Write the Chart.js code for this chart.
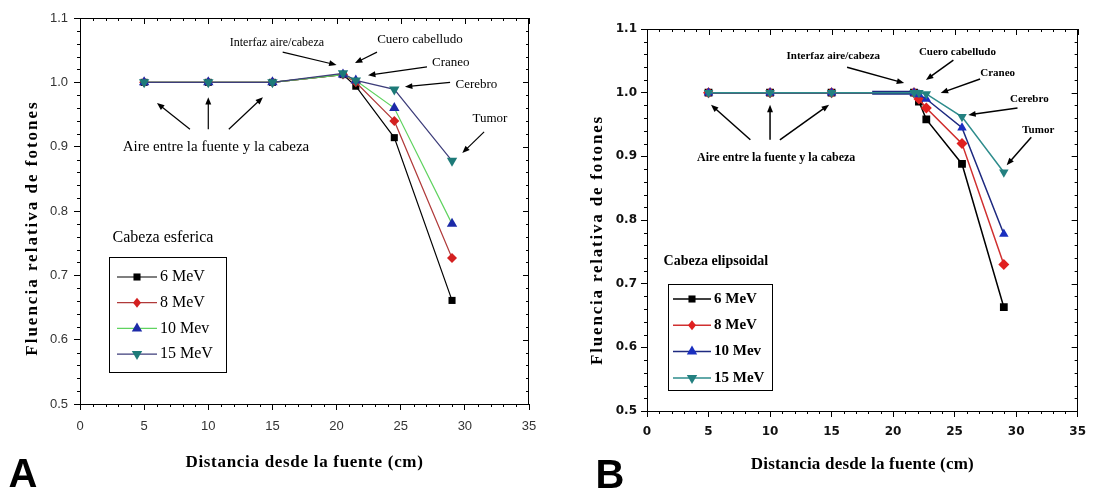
<!DOCTYPE html>
<html>
<head>
<meta charset="utf-8">
<script src="https://cdn.jsdelivr.net/npm/chart.js@4.4.1/dist/chart.umd.min.js"></script>
<style>
  html, body { margin: 0; padding: 0; background: #fff; }
  #wrap { position: relative; width: 1094px; height: 495px; }
  .panel { position: absolute; top: 0; width: 547px; height: 495px; }
</style>
</head>
<body>
<div id="wrap">
  <div class="panel" style="left:0"><canvas id="chartA" width="547" height="495"></canvas></div>
  <div class="panel" style="left:547px"><canvas id="chartB" width="547" height="495"></canvas></div>
</div>
<script>
const seriesLabels = ["6 MeV", "8 MeV", "10 Mev", "15 MeV"];

// Panel A - cabeza esferica
const distA = [5, 10, 15, 20.5, 21.5, 24.5, 29];
const a6 = [1, 1, 1, 1.012, 0.994, 0.914, 0.661];
const a8 = [1, 1, 1, 1.012, 1.0, 0.94, 0.727];
const a10 = [1, 1, 1, 1.012, 1.003, 0.96, 0.78];
const a15 = [1, 1, 1, 1.014, 1.003, 0.989, 0.878];

// Panel B - cabeza elipsoidal
const distB = [5, 10, 15, 18.3, 21.7, 22.1, 22.7, 25.6, 29];
const b6 = [1, 1, 1, 1, 1.0, 0.986, 0.958, 0.888, 0.663];
const b8 = [1, 1, 1, 1, 1.0, 0.99, 0.976, 0.92, 0.73];
const b10 = [1, 1, 1, 1, 1.0, 0.997, 0.99, 0.945, 0.778];
const b15 = [1, 1, 1, 1, 1.0, 1.0, 0.998, 0.962, 0.875];

// axis ranges
const xRange = [0, 35], xStep = 5;
const yRange = [0.5, 1.1], yStep = 0.1;

// text labels on the plots (data units)
const notesA = [
  { text: "Interfaz aire/cabeza", x: 15.35, y: 1.062, size: 12 },
  { text: "Cuero cabelludo", x: 26.5, y: 1.066, size: 13 },
  { text: "Craneo", x: 28.9, y: 1.03, size: 13 },
  { text: "Cerebro", x: 30.9, y: 0.997, size: 13 },
  { text: "Tumor", x: 31.95, y: 0.944, size: 13 },
  { text: "Aire entre la fuente y la cabeza", x: 10.6, y: 0.899, size: 15 },
  { text: "Cabeza esferica", x: 6.47, y: 0.758, size: 16 }
];
const arrowsA = [
  [15.8, 1.047, 20.0, 1.027],
  [23.15, 1.047, 21.43, 1.03],
  [27.05, 1.024, 22.45, 1.011],
  [28.85, 1.0, 25.33, 0.993],
  [31.5, 0.923, 29.8, 0.89],
  [8.57, 0.927, 6.0, 0.968],
  [10, 0.927, 10, 0.977],
  [11.6, 0.927, 14.26, 0.977]
];
const notesB = [
  { text: "Interfaz aire/cabeza", x: 15.14, y: 1.058, size: 11 },
  { text: "Cuero cabelludo", x: 25.23, y: 1.064, size: 11 },
  { text: "Craneo", x: 28.5, y: 1.031, size: 11 },
  { text: "Cerebro", x: 31.07, y: 0.99, size: 11 },
  { text: "Tumor", x: 31.8, y: 0.941, size: 11 },
  { text: "Aire entre la fuente y la cabeza", x: 10.5, y: 0.897, size: 12 },
  { text: "Cabeza elipsoidal", x: 5.6, y: 0.735, size: 14 }
];
const arrowsB = [
  [16.26, 1.04, 20.9, 1.015],
  [24.9, 1.051, 22.67, 1.02],
  [27.07, 1.0215, 23.87, 0.9995],
  [30.11, 0.976, 26.11, 0.965],
  [31.23, 0.93, 29.23, 0.886],
  [8.4, 0.926, 5.2, 0.981],
  [10, 0.926, 10, 0.981],
  [10.8, 0.926, 14.8, 0.981]
];

function marker(ctx, style, x, y, r, color, rot) {
  ctx.save();
  ctx.fillStyle = color;
  ctx.translate(x, y);
  ctx.rotate((rot || 0) * Math.PI / 180);
  ctx.beginPath();
  if (style === "rect") {
    const s = r * Math.SQRT1_2;
    ctx.rect(-s, -s, 2 * s, 2 * s);
  } else if (style === "rectRot") {
    ctx.moveTo(0, -r); ctx.lineTo(r * 0.8, 0); ctx.lineTo(0, r); ctx.lineTo(-r * 0.8, 0);
    ctx.closePath();
  } else {
    ctx.moveTo(0, -r);
    ctx.lineTo(r * Math.sin(Math.PI / 3), r * 0.5);
    ctx.lineTo(-r * Math.sin(Math.PI / 3), r * 0.5);
    ctx.closePath();
  }
  ctx.fill();
  ctx.restore();
}

function arrow(ctx, x1, y1, x2, y2, head) {
  const a = Math.atan2(y2 - y1, x2 - x1);
  ctx.beginPath();
  ctx.moveTo(x1, y1);
  ctx.lineTo(x2 - Math.cos(a) * head * 0.8, y2 - Math.sin(a) * head * 0.8);
  ctx.stroke();
  ctx.beginPath();
  ctx.moveTo(x2, y2);
  ctx.lineTo(x2 - head * Math.cos(a - 0.38), y2 - head * Math.sin(a - 0.38));
  ctx.lineTo(x2 - head * Math.cos(a + 0.38), y2 - head * Math.sin(a + 0.38));
  ctx.closePath();
  ctx.fill();
}

// frame, minor ticks, titles, notes, legend box
const decor = {
  id: "decor",
  afterDraw(chart, args, o) {
    const { ctx, chartArea: ca, scales: { x, y } } = chart;
    ctx.save();
    ctx.strokeStyle = "#000";
    ctx.fillStyle = "#000";
    ctx.lineWidth = 1;
    ctx.strokeRect(Math.round(ca.left) + 0.5, Math.round(ca.top) + 0.5, Math.round(ca.width) - 1, Math.round(ca.height));

    ctx.beginPath();
    for (let i = 0; i <= 35; i++) {
      const px = Math.round(x.getPixelForValue(i)) + 0.5;
      const major = i % 5 === 0;
      ctx.moveTo(px, ca.top); ctx.lineTo(px, ca.top + (major ? 6 : 3));
      if (!major) { ctx.moveTo(px, ca.bottom); ctx.lineTo(px, ca.bottom + 3); }
    }
    for (let i = 0; i <= 30; i++) {
      const py = Math.round(y.getPixelForValue(0.5 + i * 0.02)) + 0.5;
      const major = i % 5 === 0;
      ctx.moveTo(ca.right, py); ctx.lineTo(ca.right - (major ? 6 : 3), py);
      if (!major) { ctx.moveTo(ca.left, py); ctx.lineTo(ca.left - 3, py); }
    }
    ctx.stroke();

    // axis titles
    ctx.font = o.titleFont;
    ctx.textAlign = "center";
    ctx.textBaseline = "middle";
    ctx.letterSpacing = o.xSpacing + "px";
    ctx.fillText(o.xTitle, (ca.left + ca.right) / 2, o.xTitleY);
    ctx.save();
    ctx.translate(o.yTitleX, o.yTitleY);
    ctx.rotate(-Math.PI / 2);
    ctx.letterSpacing = o.ySpacing + "px";
    ctx.fillText(o.yTitle, 0, 0);
    ctx.restore();
    ctx.letterSpacing = "0px";

    // panel tag
    ctx.font = o.tagFont;
    ctx.fillText(o.tag, o.tagX, o.tagY);

    // notes and arrows
    o.notes.forEach(n => {
      ctx.font = o.noteWeight + " " + n.size + "px " + o.noteFamily;
      ctx.fillText(n.text, x.getPixelForValue(n.x), y.getPixelForValue(n.y));
    });
    ctx.lineWidth = o.arrowWidth;
    o.arrows.forEach(a => {
      arrow(ctx, x.getPixelForValue(a[0]), y.getPixelForValue(a[1]),
        x.getPixelForValue(a[2]), y.getPixelForValue(a[3]), 8);
    });

    // legend box
    const L = o.legend;
    ctx.lineWidth = 1;
    ctx.strokeRect(L.x + 0.5, L.y + 0.5, L.w, L.h);
    ctx.font = L.font;
    ctx.textAlign = "left";
    chart.data.datasets.forEach((ds, i) => {
      const ry = L.first + i * L.row;
      ctx.strokeStyle = ds.borderColor;
      ctx.lineWidth = L.lineWidth;
      ctx.beginPath();
      ctx.moveTo(L.lineX, ry); ctx.lineTo(L.lineX + L.lineLen, ry);
      ctx.stroke();
      marker(ctx, ds.pointStyle, L.lineX + L.lineLen / 2, ry, ds.legendRadius, ds.pointBackgroundColor, ds.pointRotation);
      ctx.fillStyle = "#000";
      ctx.fillText(ds.label, L.lineX + L.lineLen + 3, ry);
    });
    ctx.restore();
  }
};

function makeSets(dist, vals, look) {
  return vals.map((v, i) => Object.assign({
    label: seriesLabels[i],
    data: dist.map((d, k) => ({ x: d, y: v[k] })),
    order: 3 - i,
    pointBorderWidth: 0,
    fill: false,
    tension: 0
  }, look[i]));
}

function makeOptions(c) {
  return {
    responsive: false,
    animation: false,
    layout: { padding: c.pad },
    plugins: { legend: { display: false }, tooltip: { enabled: false }, decor: c.decor },
    scales: {
      x: {
        type: "linear", min: xRange[0], max: xRange[1],
        ticks: { stepSize: xStep, font: c.tickFont, color: c.tickColor, padding: c.xPad },
        grid: { drawOnChartArea: false, drawTicks: true, tickLength: 6, color: "#000" },
        border: { color: "#000" },
        afterFit: s => { s.height = c.xh; }
      },
      y: {
        min: yRange[0], max: yRange[1],
        ticks: { stepSize: yStep, font: c.tickFont, color: c.tickColor, padding: c.yPad, callback: v => v.toFixed(1) },
        grid: { drawOnChartArea: false, drawTicks: true, tickLength: 6, color: "#000" },
        border: { color: "#000" },
        afterFit: s => { s.width = c.yw; }
      }
    }
  };
}

const lookA = [
  { borderColor: "#000000", pointBackgroundColor: "#000000", pointStyle: "rect", pointRadius: 5, legendRadius: 5, borderWidth: 1.2 },
  { borderColor: "#b03a3a", pointBackgroundColor: "#d42020", pointStyle: "rectRot", pointRadius: 5, legendRadius: 5, borderWidth: 1.2 },
  { borderColor: "#5fd35f", pointBackgroundColor: "#1c2aa8", pointStyle: "triangle", pointRadius: 6, legendRadius: 6, borderWidth: 1.2 },
  { borderColor: "#3d3d7a", pointBackgroundColor: "#1d7a78", pointStyle: "triangle", pointRotation: 180, pointRadius: 6, legendRadius: 6, borderWidth: 1.2 }
];
const lookB = [
  { borderColor: "#000000", pointBackgroundColor: "#000000", pointStyle: "rect", legendRadius: 5, borderWidth: 1.5 },
  { borderColor: "#d03030", pointBackgroundColor: "#e02020", pointStyle: "rectRot", legendRadius: 5, borderWidth: 1.5 },
  { borderColor: "#1e2a80", pointBackgroundColor: "#1a2fbf", pointStyle: "triangle", legendRadius: 6, borderWidth: 1.5,
    segment: { borderWidth: c => c.p0DataIndex === 3 ? 4 : 1.5 } },
  { borderColor: "#2e8c8c", pointBackgroundColor: "#238080", pointStyle: "triangle", pointRotation: 180, legendRadius: 6, borderWidth: 1.5 }
];
lookB.forEach(l => { l.pointRadius = c => c.dataIndex === 3 ? 0 : 5.5; });

new Chart(document.getElementById("chartA"), {
  type: "line",
  data: { datasets: makeSets(distA, [a6, a8, a10, a15], lookA) },
  options: makeOptions({
    pad: { left: 0, top: 18, right: 18, bottom: 0 },
    xh: 91, yw: 80, xPad: 9, yPad: 6,
    tickFont: { family: "Liberation Sans", size: 13 }, tickColor: "#333",
    decor: {
      tag: "A", tagX: 23, tagY: 476, tagFont: "bold 40px Liberation Sans",
      xTitle: "Distancia desde la fuente (cm)", xTitleY: 463, xSpacing: 0.7,
      yTitle: "Fluencia relativa de fotones", yTitleX: 33, yTitleY: 228, ySpacing: 2,
      titleFont: "bold 17px Liberation Serif",
      notes: notesA, arrows: arrowsA, noteFamily: "Liberation Serif", noteWeight: "", arrowWidth: 1.2,
      legend: { x: 109, y: 257, w: 117, h: 115, first: 277, row: 25.7, lineX: 117, lineLen: 40, lineWidth: 1.2, font: "16px Liberation Serif" }
    }
  }),
  plugins: [decor]
});

new Chart(document.getElementById("chartB"), {
  type: "line",
  data: { datasets: makeSets(distB, [b6, b8, b10, b15], lookB) },
  options: makeOptions({
    pad: { left: 0, top: 29, right: 10, bottom: 0 },
    xh: 84, yw: 100, xPad: 8, yPad: 4,
    tickFont: { family: "DejaVu Sans", size: 12, weight: "bold" }, tickColor: "#111",
    decor: {
      tag: "B", tagX: 63, tagY: 477, tagFont: "bold 40px Liberation Sans",
      xTitle: "Distancia desde la fuente (cm)", xTitleY: 465, xSpacing: 0.2,
      yTitle: "Fluencia relativa de fotones", yTitleX: 51, yTitleY: 240, ySpacing: 1.8,
      titleFont: "bold 17px Liberation Serif",
      notes: notesB, arrows: arrowsB, noteFamily: "Liberation Serif", noteWeight: "bold", arrowWidth: 1.5,
      legend: { x: 121, y: 284, w: 104, h: 106, first: 299, row: 26.3, lineX: 126, lineLen: 38, lineWidth: 1.5, font: "bold 15px Liberation Serif" }
    }
  }),
  plugins: [decor]
});
</script>
</body>
</html>
